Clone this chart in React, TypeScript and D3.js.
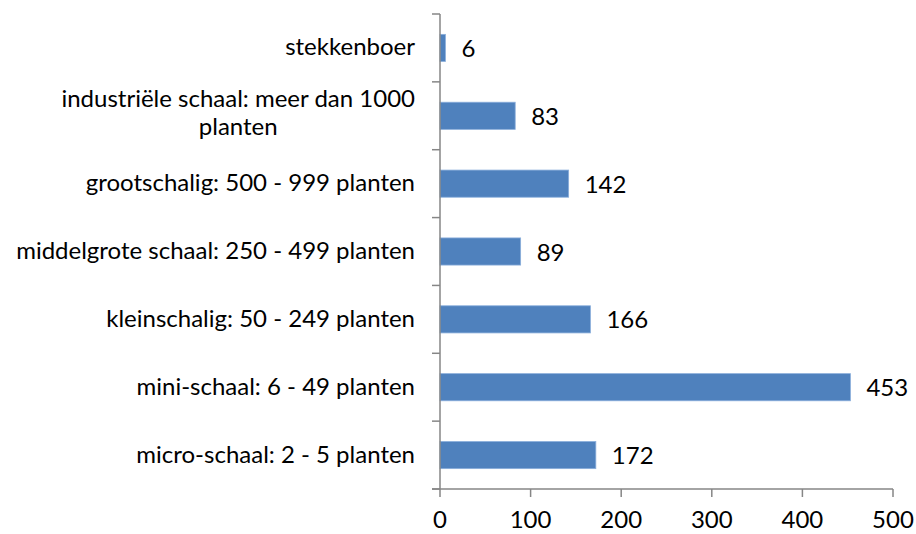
import React, { useEffect, useRef } from "react";
import * as d3 from "d3";

const categories: string[][] = [
  ["stekkenboer"],
  ["industriële schaal: meer dan 1000", "planten"],
  ["grootschalig: 500 - 999 planten"],
  ["middelgrote schaal: 250 - 499 planten"],
  ["kleinschalig: 50 - 249 planten"],
  ["mini-schaal: 6 - 49 planten"],
  ["micro-schaal: 2 - 5 planten"],
];
const values: number[] = [6, 83, 142, 89, 166, 453, 172];
const xTicks: number[] = [0, 100, 200, 300, 400, 500];

const W = 916, H = 534;
const FONT = "Lato, 'Open Sans', sans-serif";
const FS = 24;

export default function App() {
  const ref = useRef<SVGSVGElement>(null);
  useEffect(() => {
    const svg = d3.select(ref.current);
    svg.selectAll("*").remove();
    const left = 440, right = 893, top = 14, bottom = 489;
    const x = d3.scaleLinear().domain([0, 500]).range([left, right]);
    const y = d3.scaleBand<number>().domain(d3.range(categories.length)).range([top, bottom]).paddingInner(0.6).paddingOuter(0.3);
    const axisColor = "#868686";

    // bars
    svg.append("g").selectAll("rect").data(values).join("rect")
      .attr("x", x(0))
      .attr("y", (_, i) => y(i)!)
      .attr("width", (d) => x(d) - x(0))
      .attr("height", y.bandwidth())
      .attr("fill", "#4F81BD")
      .attr("stroke", "#8AAEDB")
      .attr("stroke-width", 0.8);

    // value labels
    svg.append("g").selectAll("text").data(values).join("text")
      .attr("x", (d) => x(d) + 16)
      .attr("y", (_, i) => y(i)! + y.bandwidth() / 2 + 9)
      .attr("font-family", FONT)
      .attr("font-size", FS)
      .attr("fill", "#000")
      .text((d) => String(d));

    // y axis
    const step = (bottom - top) / categories.length;
    svg.append("line").attr("x1", left).attr("x2", left).attr("y1", top).attr("y2", bottom)
      .attr("stroke", axisColor).attr("stroke-width", 1.5);
    for (let i = 0; i <= categories.length; i++) {
      const yy = top + i * step;
      svg.append("line").attr("x1", left - 8).attr("x2", left).attr("y1", yy).attr("y2", yy)
        .attr("stroke", axisColor).attr("stroke-width", 1.5);
    }
    // x axis
    svg.append("line").attr("x1", left - 8).attr("x2", right).attr("y1", bottom).attr("y2", bottom)
      .attr("stroke", axisColor).attr("stroke-width", 1.5);
    xTicks.forEach((t) => {
      svg.append("line").attr("x1", x(t)).attr("x2", x(t)).attr("y1", bottom).attr("y2", bottom + 8)
        .attr("stroke", axisColor).attr("stroke-width", 1.5);
      svg.append("text").attr("x", x(t)).attr("y", 528)
        .attr("text-anchor", "middle")
        .attr("font-family", FONT).attr("font-size", FS).attr("fill", "#000")
        .text(String(t));
    });

    // category labels
    const labelRight = 415;
    categories.forEach((lines, i) => {
      const cy = y(i)! + y.bandwidth() / 2;
      if (lines.length === 1) {
        svg.append("text").attr("x", labelRight).attr("y", cy + 7.5)
          .attr("text-anchor", "end")
          .attr("font-family", FONT).attr("font-size", FS).attr("fill", "#000")
          .text(lines[0]);
      } else {
        const g = svg.append("g");
        const t1 = g.append("text").attr("font-family", FONT).attr("font-size", FS).text(lines[0]);
        const w = (t1.node() as SVGTextElement).getComputedTextLength();
        t1.remove();
        const cx = labelRight - w / 2;
        const lh = 28;
        lines.forEach((ln, j) => {
          g.append("text").attr("x", cx).attr("y", cy - 8.5 + j * lh)
            .attr("text-anchor", "middle")
            .attr("font-family", FONT).attr("font-size", FS).attr("fill", "#000")
            .text(ln);
        });
      }
    });
  }, []);
  return (
    <svg ref={ref} width={W} height={H}
      style={{ position: "absolute", left: 0, top: 0, background: "#fff", display: "block" }} />
  );
}
